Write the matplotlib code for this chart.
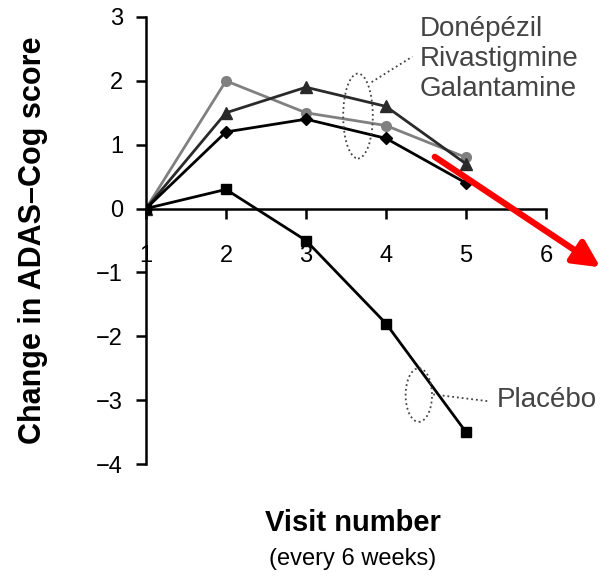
import matplotlib
matplotlib.use("Agg")
import matplotlib.pyplot as plt
from matplotlib.patches import Ellipse

plt.rcParams['font.family'] = ['Liberation Sans', 'DejaVu Sans']

# ADAS-Cog change per visit (every 6 weeks)
visits = [1, 2, 3, 4, 5]
donepezil = [0, 2.0, 1.5, 1.3, 0.8]
rivastigmine = [0, 1.5, 1.9, 1.6, 0.7]
galantamine = [0, 1.2, 1.4, 1.1, 0.4]
placebo = [0, 0.3, -0.5, -1.8, -3.5]

fig = plt.figure(figsize=(6, 5.76), dpi=100)
ax = fig.add_axes([0.2433, 0.1944, 0.6667, 0.7761])

ax.plot(visits, donepezil, color='#808080', lw=2, marker='o', ms=7, zorder=3)
ax.plot(visits, rivastigmine, color='#2a2a2a', lw=2, marker='^', ms=8, zorder=3)
ax.plot(visits, galantamine, color='black', lw=2, marker='D', ms=6, zorder=3)
ax.plot(visits, placebo, color='black', lw=2, marker='s', ms=7, zorder=3)

ax.set_xlim(1, 6)
ax.set_ylim(-4, 3)
ax.spines['top'].set_visible(False)
ax.spines['right'].set_visible(False)
ax.spines['bottom'].set_position(('data', 0))
for s in ('left', 'bottom'):
    ax.spines[s].set_linewidth(1.8)

ax.set_xticks([1, 2, 3, 4, 5, 6])
ax.set_yticks(range(-4, 4))
ax.tick_params(axis='x', direction='out', length=7.5, width=1.8, pad=19, labelsize=17)
ax.tick_params(axis='y', direction='out', length=7.5, width=1.8, pad=9, labelsize=17)

ax.set_ylabel('Change in ADAS\u2013Cog score', fontsize=22, fontweight='bold')
ax.yaxis.set_label_coords(-0.245, 0.5)

fig.text(0.588, 0.092, 'Visit number', ha='center', va='center', fontsize=21, fontweight='bold')
fig.text(0.588, 0.030, '(every 6 weeks)', ha='center', va='center', fontsize=17)

note = '#444444'
# grouped treatments callout
ax.add_patch(Ellipse((3.65, 1.45), 0.37, 1.33, fill=False, ls=':', lw=1.3, ec=note, zorder=4))
ax.plot([3.82, 4.33], [1.98, 2.38], ls=':', lw=1.3, color=note, clip_on=False)
ax.text(4.42, 2.34, 'Donépézil\nRivastigmine\nGalantamine', ha='left', va='center',
        fontsize=20, color=note, linespacing=1.19, clip_on=False)

# placebo callout
ax.add_patch(Ellipse((4.41, -2.92), 0.33, 0.84, fill=False, ls=':', lw=1.3, ec=note, zorder=4))
ax.plot([4.59, 5.3], [-2.91, -3.02], ls=':', lw=1.3, color=note, clip_on=False)
ax.text(5.39, -3.0, 'Placébo', ha='left', va='center', fontsize=20, color=note, clip_on=False)

# red trend arrow
ax.annotate('', xy=(6.68, -0.92), xytext=(4.61, 0.81), annotation_clip=False,
            arrowprops=dict(arrowstyle='-|>,head_length=1.6,head_width=0.8',
                            color='#ff0000', lw=4.5, shrinkA=0, shrinkB=0))

fig.savefig('out.png', dpi=100)
